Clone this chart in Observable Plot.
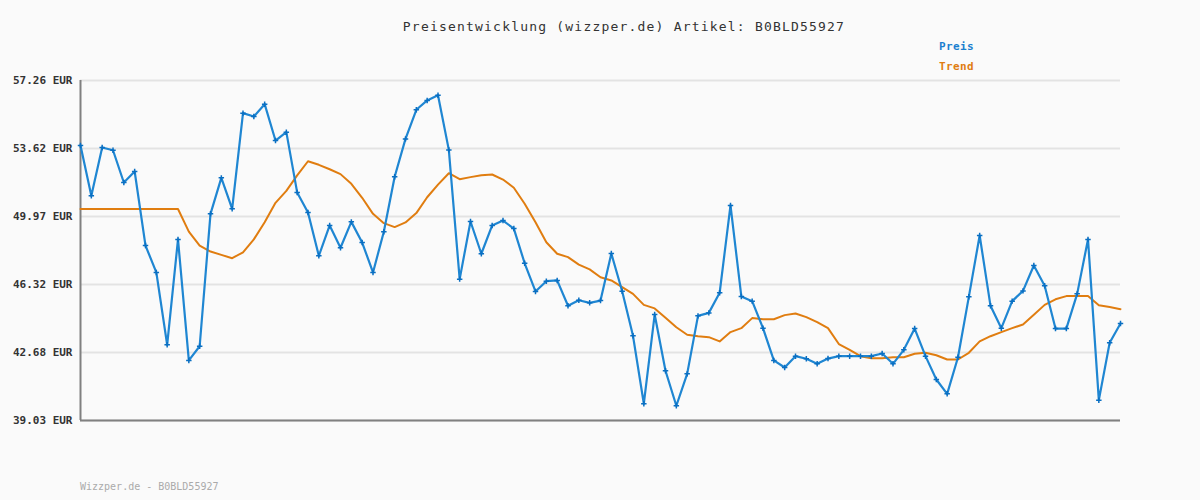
<!DOCTYPE html>
<html>
<head>
<meta charset="utf-8">
<script src="https://cdn.jsdelivr.net/npm/d3@7"></script>
<script src="https://cdn.jsdelivr.net/npm/@observablehq/plot@0.6"></script>
<style>
  html, body { margin: 0; padding: 0; background: #fafafa; }
  #wrap { position: relative; width: 1200px; height: 500px; background: #fafafa; overflow: hidden; }
  .mono { font-family: "DejaVu Sans Mono", "Liberation Mono", monospace; position: absolute; white-space: nowrap; }
  #title { top: 19px; left: 0; width: 1248px; text-align: center; font-size: 13px; letter-spacing: 1.2px; color: #333; }
  #leg1 { top: 40px; left: 939px; font-size: 11px; font-weight: bold; color: #1a7fcf; letter-spacing: 0.4px; }
  #leg2 { top: 60px; left: 939px; font-size: 11px; font-weight: bold; color: #e07d10; letter-spacing: 0.4px; }
  #foot { top: 481px; left: 80px; font-size: 10px; color: #aaaaaa; }
  #chart { position: absolute; left: 0; top: 0; }
</style>
</head>
<body>
<div id="wrap">
  <div id="chart"></div>
  <div id="title" class="mono">Preisentwicklung (wizzper.de) Artikel: B0BLD55927</div>
  <div id="leg1" class="mono">Preis</div>
  <div id="leg2" class="mono">Trend</div>
  <div id="foot" class="mono">Wizzper.de - B0BLD55927</div>
</div>
<script>
const preis = [53.78,51.08,53.67,53.52,51.79,52.38,48.41,46.97,43.09,48.74,
  42.25,43.01,50.11,52.04,50.38,55.51,55.33,55.99,54.04,54.49,
  51.26,50.18,47.86,49.49,48.29,49.68,48.57,46.97,49.15,52.10,
  54.13,55.69,56.19,56.47,53.54,46.61,49.70,47.97,49.49,49.75,
  49.32,47.46,45.95,46.50,46.54,45.18,45.48,45.34,45.46,47.98,
  45.96,43.57,39.93,44.71,41.70,39.82,41.53,44.64,44.80,45.88,
  50.56,45.68,45.43,43.98,42.25,41.87,42.48,42.34,42.07,42.35,
  42.48,42.48,42.48,42.48,42.62,42.07,42.82,43.96,42.48,41.23,
  40.46,42.42,45.66,48.95,45.18,43.98,45.43,45.98,47.34,46.25,
  43.96,43.96,45.82,48.74,40.12,43.20,44.23];
const trend = [50.37,50.37,50.37,50.37,50.37,50.37,50.37,50.37,50.37,50.37,
  49.16,48.41,48.09,47.91,47.73,48.05,48.74,49.66,50.70,51.34,
  52.17,52.93,52.74,52.50,52.24,51.72,50.97,50.11,49.61,49.40,
  49.65,50.15,51.00,51.68,52.29,51.97,52.08,52.18,52.22,51.95,
  51.51,50.65,49.66,48.59,47.97,47.79,47.39,47.13,46.71,46.54,
  46.18,45.82,45.23,45.04,44.54,44.03,43.63,43.55,43.50,43.27,
  43.77,43.98,44.52,44.46,44.46,44.68,44.77,44.57,44.30,43.98,
  43.13,42.82,42.48,42.37,42.37,42.42,42.42,42.61,42.66,42.53,
  42.30,42.30,42.66,43.27,43.55,43.77,43.98,44.18,44.70,45.23,
  45.53,45.70,45.70,45.70,45.21,45.11,45.00];
const yTicks = [39.03, 42.68, 46.32, 49.97, 53.62, 57.26];

const preisData = preis.map((v, i) => ({i, v}));
const trendData = trend.map((v, i) => ({i, v}));

const chart = Plot.plot({
  width: 1200,
  height: 500,
  marginLeft: 80,
  marginRight: 80,
  marginTop: 80,
  marginBottom: 80,
  style: {background: "transparent", fontFamily: "DejaVu Sans Mono, monospace"},
  x: {domain: [0, preis.length - 1], axis: null},
  y: {domain: [39.03, 57.26], axis: null},
  marks: [
    Plot.gridY(yTicks, {stroke: "#e3e3e3", strokeOpacity: 1, strokeWidth: 2}),
    Plot.axisY(yTicks, {
      tickSize: 0, tickPadding: 8, label: null,
      tickFormat: d => d.toFixed(2) + " EUR",
      fontSize: 11, fontWeight: "bold", fill: "#333",
      style: "letter-spacing:0.3px"
    }),
    Plot.ruleX([0], {stroke: "#808080", strokeWidth: 2}),
    Plot.ruleY([39.03], {stroke: "#808080", strokeWidth: 2}),
    Plot.line(trendData, {x: "i", y: "v", stroke: "#e07d10", strokeWidth: 2}),
    Plot.line(preisData, {x: "i", y: "v", stroke: "#1f86d2", strokeWidth: 2.2}),
    Plot.dot(preisData, {x: "i", y: "v", symbol: "plus", r: 1.9, stroke: "#0a6fc2", strokeWidth: 1.5, fill: "#0a6fc2"})
  ]
});
document.getElementById("chart").appendChild(chart);
</script>
</body>
</html>
